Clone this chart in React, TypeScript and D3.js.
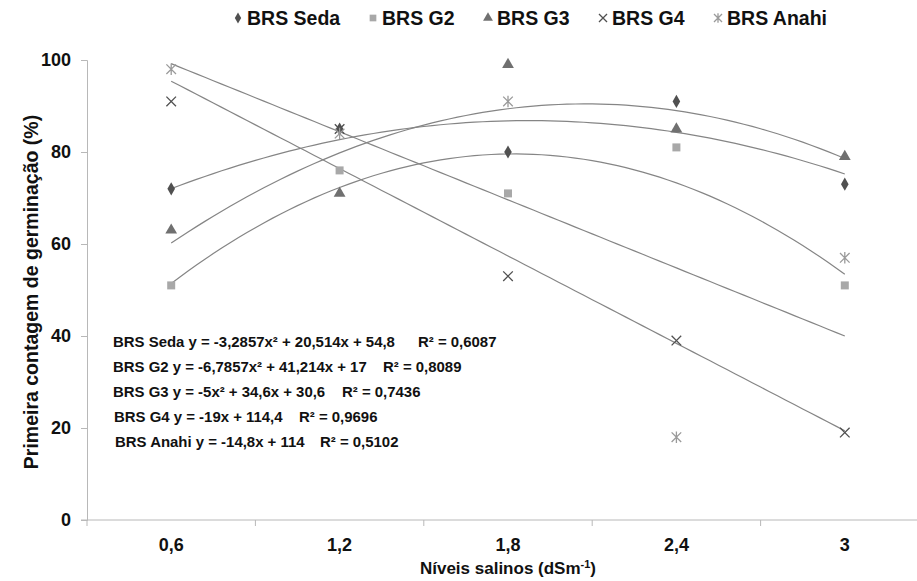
import { useEffect, useRef } from "react"
import * as d3 from "d3"

const categories = ["0,6", "1,2", "1,8", "2,4", "3"]
const yTicks = [0, 20, 40, 60, 80, 100]

const seriesNames = ["BRS Seda", "BRS G2", "BRS G3", "BRS G4", "BRS Anahi"]
const seda = [72, 85, 80, 91, 73]
const g2 = [51, 76, 71, 81, 51]
const g3 = [63, 71, 99, 85, 79]
const g4 = [91, 85, 53, 39, 19]
const anahi = [98, 84, 91, 18, 57]

// trend line coefficients [a, b, c] for y = a*x^2 + b*x + c, x = 1..5
const trendCoefs = [
    [-3.2857, 20.514, 54.8],
    [-6.7857, 41.214, 17],
    [-5, 34.6, 30.6],
    [0, -19, 114.4],
    [0, -14.8, 114],
]

const equations = [
    ["BRS Seda y = -3,2857x² + 20,514x + 54,8", "R² = 0,6087"],
    ["BRS G2 y = -6,7857x² + 41,214x + 17", "R² = 0,8089"],
    ["BRS G3 y = -5x² + 34,6x + 30,6", "R² = 0,7436"],
    ["BRS G4 y = -19x + 114,4", "R² = 0,9696"],
    ["BRS Anahi y = -14,8x + 114", "R² = 0,5102"],
]

const markerKinds = ["diamond", "square", "triangle", "x", "star"]
const markerColors = ["#505050", "#a8a8a8", "#707070", "#505050", "#9a9a9a"]

const W = 917
const H = 581
const FONT = "'Liberation Sans', Arial, sans-serif"

function drawMarker(sel: any, kind: string, color: string, size = 1) {
    if (kind === "diamond") {
        sel.append("path").attr("d", d3.symbol(d3.symbolDiamond, 50 * size)()).attr("fill", color)
    } else if (kind === "square") {
        sel.append("path").attr("d", d3.symbol(d3.symbolSquare, 64 * size)()).attr("fill", color)
    } else if (kind === "triangle") {
        sel.append("path").attr("d", d3.symbol(d3.symbolTriangle, 60 * size)()).attr("fill", color)
    } else {
        const r = 4.8 * Math.sqrt(size)
        let d = `M${-r},${-r}L${r},${r}M${-r},${r}L${r},${-r}`
        if (kind === "star") d += `M0,${-r * 1.2}L0,${r * 1.2}`
        sel.append("path").attr("d", d).attr("stroke", color).attr("stroke-width", 1.3).attr("fill", "none")
    }
}

export default function App() {
    const ref = useRef<SVGSVGElement>(null)

    useEffect(() => {
        const svg = d3.select(ref.current)
        svg.selectAll("*").remove()

        const data = [seda, g2, g3, g4, anahi]

        const x = d3.scaleBand().domain(categories).range([87, 929])
        const cx = (c: string) => (x(c) ?? 0) + x.bandwidth() / 2
        const y = d3.scaleLinear().domain([0, 100]).range([520, 60])
        const xi = d3.scaleLinear().domain([1, 5]).range([cx(categories[0]), cx(categories[4])])

        // axes
        const yAxis = svg.append("g")
            .attr("transform", "translate(87,0)")
            .call(d3.axisLeft(y).tickValues(yTicks).tickSize(6).tickPadding(10).tickFormat(d3.format("d")))
        yAxis.select(".domain").attr("stroke", "#b8b8b8")
        yAxis.selectAll(".tick line").attr("stroke", "#b8b8b8")
        yAxis.selectAll("text")
            .attr("font-family", FONT).attr("font-size", 18).attr("font-weight", "bold").attr("fill", "#111")

        const xAxis = svg.append("g").attr("transform", "translate(0,520)")
        xAxis.append("line")
            .attr("x1", 81).attr("x2", 929).attr("y1", 0).attr("y2", 0)
            .attr("stroke", "#b8b8b8")
        xAxis.selectAll(".tk")
            .data(categories.concat(["end"]))
            .join("line")
            .attr("class", "tk")
            .attr("x1", (d, i) => 87 + i * x.bandwidth())
            .attr("x2", (d, i) => 87 + i * x.bandwidth())
            .attr("y1", 0).attr("y2", 6)
            .attr("stroke", "#b8b8b8")
        xAxis.selectAll(".lbl")
            .data(categories)
            .join("text")
            .attr("class", "lbl")
            .attr("x", d => cx(d))
            .attr("y", 31)
            .attr("text-anchor", "middle")
            .attr("font-family", FONT).attr("font-size", 18).attr("font-weight", "bold").attr("fill", "#111")
            .text(d => d)

        // axis titles
        const xt = svg.append("text")
            .attr("x", 508).attr("y", 574)
            .attr("text-anchor", "middle")
            .attr("font-family", FONT).attr("font-size", 17).attr("font-weight", "bold").attr("fill", "#111")
        xt.append("tspan").text("Níveis salinos (dSm")
        xt.append("tspan").attr("dy", -6).attr("font-size", 11).text("-1")
        xt.append("tspan").attr("dy", 6).text(")")

        svg.append("text")
            .attr("transform", "translate(38,292) rotate(-90)")
            .attr("text-anchor", "middle")
            .attr("font-family", FONT).attr("font-size", 19.5).attr("font-weight", "bold").attr("fill", "#111")
            .text("Primeira contagem de germinação (%)")

        // trend lines
        trendCoefs.forEach(([a, b, c]) => {
            const ts = d3.range(1, 5.0001, 0.05)
            svg.append("path")
                .attr("d", d3.line<number>().x(t => xi(t)).y(t => y(a * t * t + b * t + c))(ts))
                .attr("fill", "none")
                .attr("stroke", "#858585")
                .attr("stroke-width", 1.2)
        })

        // markers
        data.forEach((vals, si) => {
            vals.forEach((v, i) => {
                const g = svg.append("g").attr("transform", `translate(${cx(categories[i])},${y(v)})`)
                drawMarker(g, markerKinds[si], markerColors[si])
            })
        })

        // equations
        const eqY = [342, 367, 392, 417, 442]
        const eqX = [113, 113, 113, 114, 115]
        const rX = [418, 383, 342, 299, 320]
        const probe = svg.append("text")
            .attr("font-family", FONT).attr("font-size", 16).attr("font-weight", "bold")
            .text(equations[0][0])
        const eqFs = 16 * 282 / (probe.node() as SVGTextElement).getComputedTextLength()
        probe.remove()
        equations.forEach(([eq, r2], i) => {
            svg.append("text")
                .attr("x", eqX[i]).attr("y", eqY[i] + 5)
                .attr("font-family", FONT).attr("font-size", eqFs).attr("font-weight", "bold").attr("fill", "#111")
                .text(eq)
            svg.append("text")
                .attr("x", rX[i]).attr("y", eqY[i] + 5)
                .attr("font-family", FONT).attr("font-size", eqFs).attr("font-weight", "bold").attr("fill", "#111")
                .text(r2)
        })

        // legend
        const legendX = [238, 373, 488, 603, 718]
        const legend = svg.append("g").attr("transform", "translate(0,18)")
        seriesNames.forEach((name, i) => {
            const mg = legend.append("g").attr("transform", `translate(${legendX[i]},0)`)
            drawMarker(mg, markerKinds[i], markerColors[i], 0.7)
            legend.append("text")
                .attr("x", legendX[i] + 9).attr("y", 7)
                .attr("font-family", FONT).attr("font-size", 19.5).attr("font-weight", "bold").attr("fill", "#111")
                .text(name)
        })
    }, [])

    return (
        <svg
            ref={ref}
            width={W}
            height={H}
            style={{ position: "absolute", left: 0, top: 0, background: "#fff" }}
        />
    )
}
